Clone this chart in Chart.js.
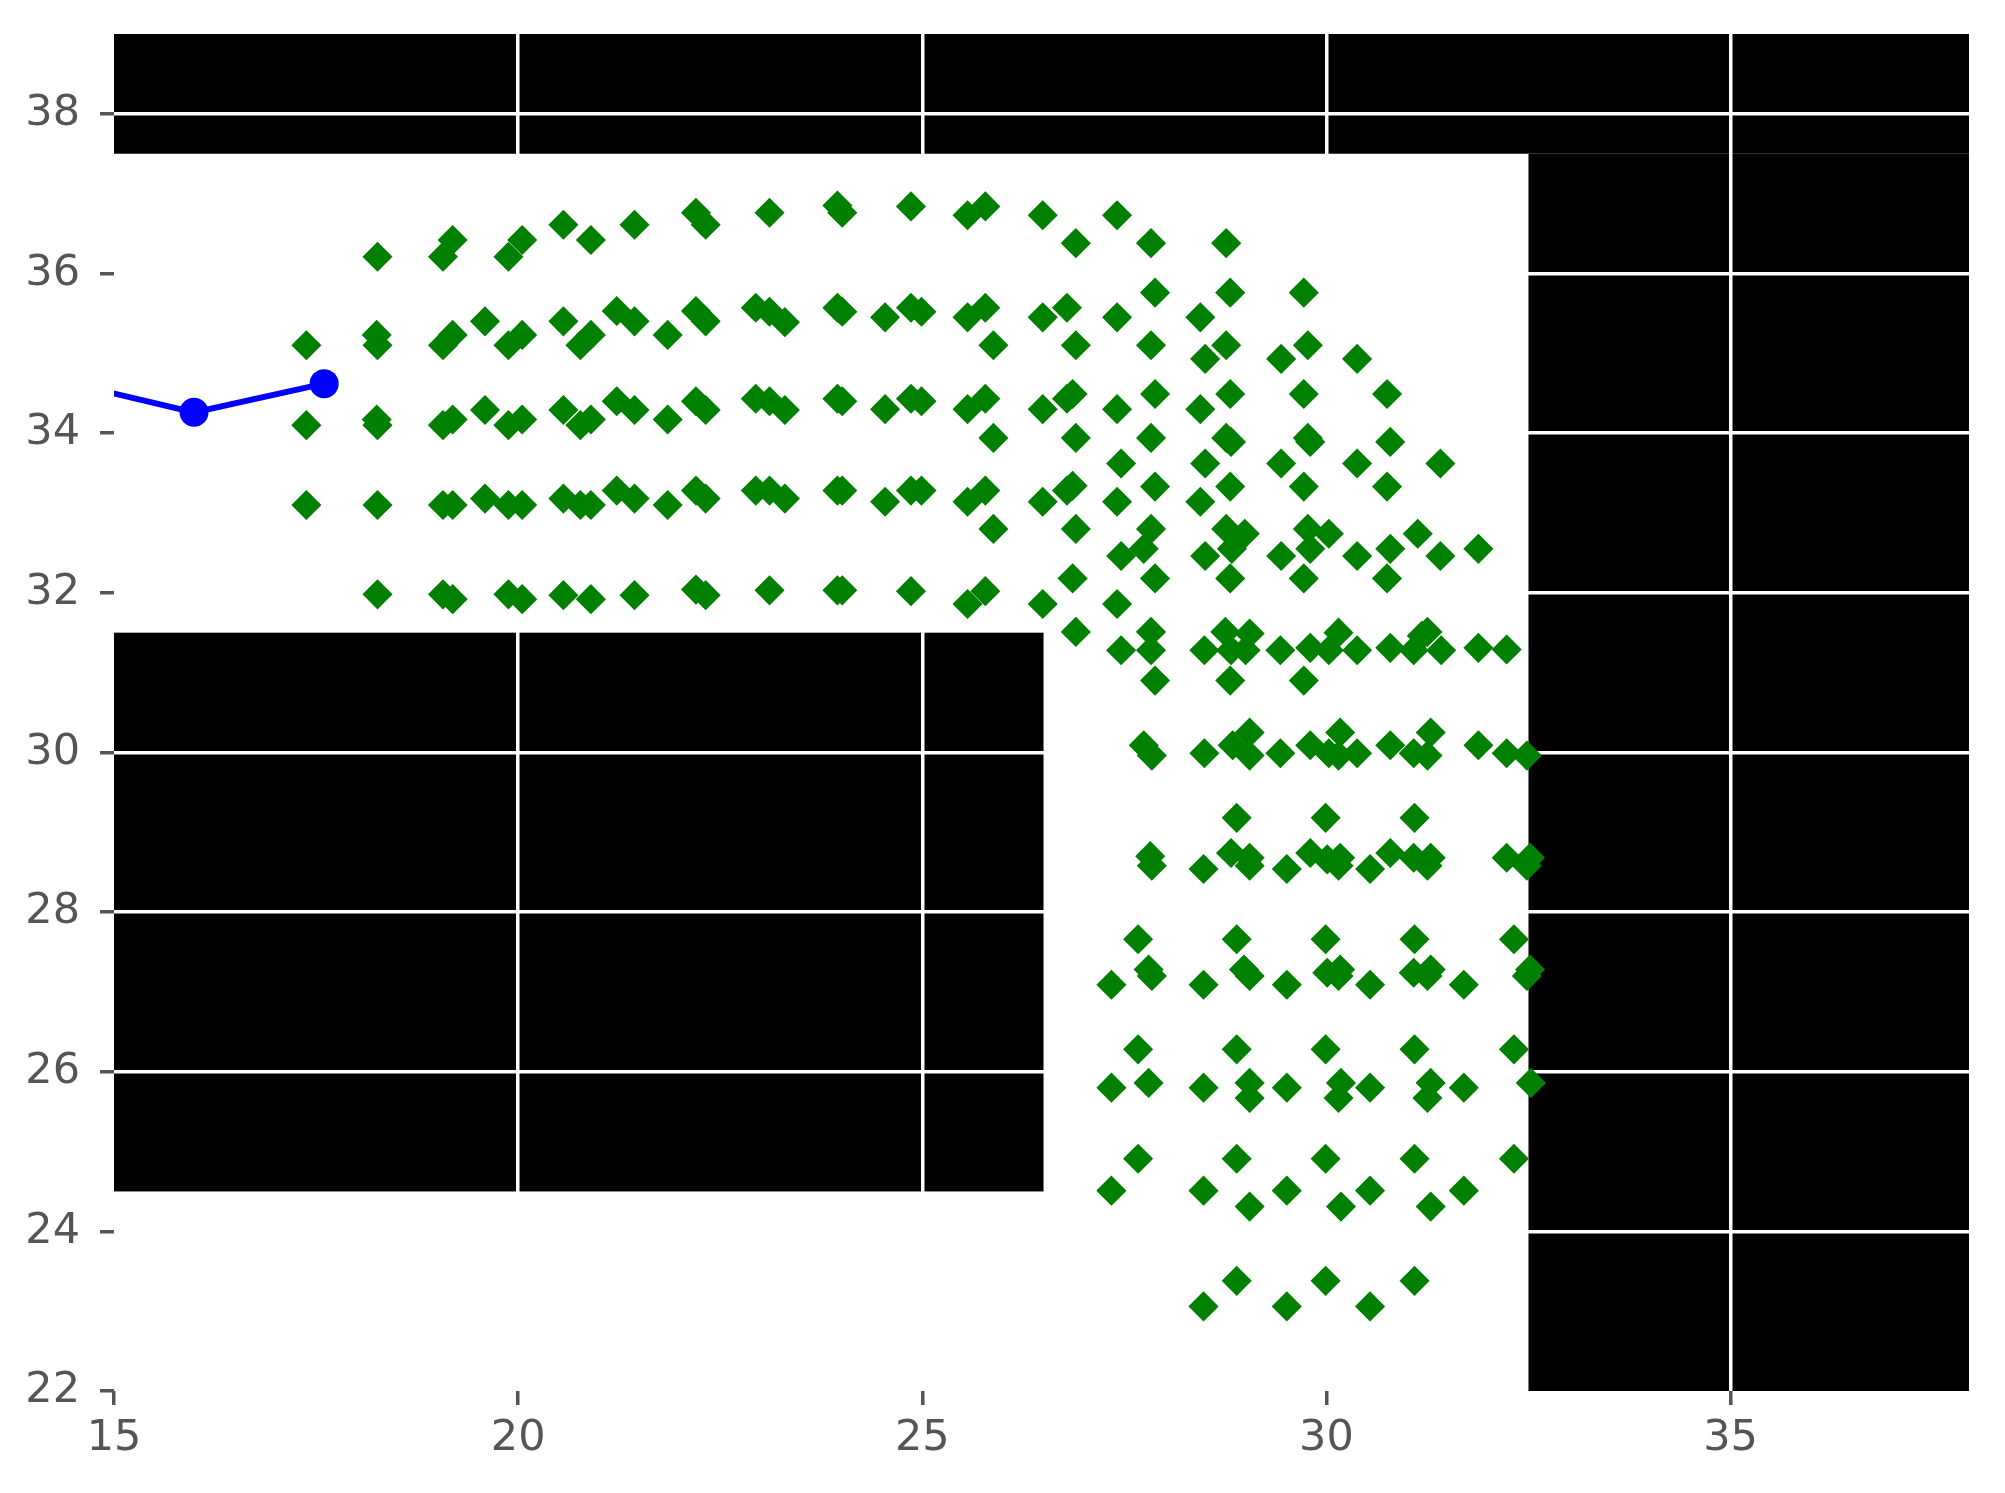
<!DOCTYPE html>
<html><head><meta charset="utf-8">
<script src="https://cdn.jsdelivr.net/npm/chart.js@4"></script>
<style>html,body{margin:0;padding:0;background:#ffffff;} canvas{display:block;}</style>
</head><body>
<canvas id="c" width="2005" height="1493"></canvas>
<script>
// axis ranges and tick labels
const xRange = [15, 37.95];
const yRange = [22, 39];
const xTicks = [15, 20, 25, 30, 35];
const yTicks = [22, 24, 26, 28, 30, 32, 34, 36, 38];

// obstacles (data units)
const obstacleX0 = [15, 32.5, 15];
const obstacleX1 = [37.95, 37.95, 26.5];
const obstacleY0 = [37.5, 22, 24.5];
const obstacleY1 = [39, 37.5, 31.5];

// blue path
const pathX = [14.4, 15.99, 17.60];
const pathY = [34.64, 34.26, 34.62];

// green samples [x, y]
const corridorLeftPts = [
  [18.26,36.21],[19.19,36.42],[19.07,36.21],[20.05,36.42],[19.88,36.21],[20.56,36.61],[20.90,36.42],[21.44,36.61],[22.20,36.76],[22.32,36.61],
  [17.38,35.10],[18.25,35.23],[18.26,35.10],[19.19,35.23],[19.07,35.10],[19.59,35.40],[20.05,35.23],[19.88,35.10],[20.56,35.40],[20.90,35.23],[20.77,35.10],[21.22,35.53],[21.44,35.40],[21.85,35.23],[22.20,35.53],[22.32,35.40],
  [17.38,34.10],[18.25,34.17],[18.26,34.10],[19.19,34.17],[19.07,34.10],[19.59,34.29],[20.05,34.17],[19.88,34.10],[20.56,34.29],[20.90,34.17],[20.77,34.10],[21.22,34.40],[21.44,34.29],[21.85,34.17],[22.20,34.40],[22.32,34.29],
  [17.38,33.10],[18.26,33.10],[19.07,33.10],[19.19,33.10],[19.59,33.18],[19.88,33.10],[20.05,33.10],[20.56,33.18],[20.77,33.10],[20.90,33.10],[21.22,33.28],[21.44,33.18],[21.85,33.10],[22.20,33.28],[22.32,33.18],
  [18.26,31.98],[19.07,31.98],[19.19,31.92],[19.88,31.98],[20.05,31.92],[20.56,31.97],[20.90,31.92],[21.44,31.97],[22.20,32.04],[22.32,31.97]
];
const corridorMidPts = [
  [23.11,36.76],[23.95,36.85],[24.01,36.76],[24.86,36.84],[25.56,36.73],[25.78,36.84],[26.49,36.73],[26.90,36.38],[27.41,36.73],[27.83,36.38],
  [22.94,35.57],[23.11,35.52],[23.30,35.39],[23.95,35.57],[24.01,35.52],[24.54,35.45],[24.86,35.57],[24.99,35.52],[25.56,35.45],[25.78,35.57],[25.88,35.10],[26.49,35.45],[26.79,35.57],[26.90,35.10],[27.41,35.45],[27.88,35.76],[27.83,35.10],
  [22.94,34.43],[23.11,34.40],[23.30,34.29],[23.95,34.43],[24.01,34.40],[24.54,34.30],[24.86,34.43],[24.99,34.40],[25.56,34.30],[25.78,34.43],[25.88,33.94],[26.49,34.30],[26.79,34.43],[26.86,34.49],[26.90,33.94],[27.41,34.30],[27.88,34.49],[27.83,33.94],[27.46,33.62],
  [22.94,33.28],[23.11,33.28],[23.30,33.18],[23.95,33.28],[24.01,33.28],[24.54,33.14],[24.86,33.28],[24.99,33.28],[25.56,33.14],[25.78,33.28],[25.88,32.80],[26.49,33.14],[26.79,33.28],[26.86,33.34],[26.90,32.80],[27.41,33.14],[27.88,33.33],[27.83,32.80],[27.46,32.46],[27.74,32.55],
  [23.11,32.03],[23.95,32.03],[24.01,32.03],[24.86,32.02],[25.56,31.86],[25.78,32.02],[26.86,32.18],[26.49,31.86],[27.41,31.86],[27.88,32.18]
];
const cornerPts = [
  [28.76,36.38],[28.81,35.76],[29.72,35.76],[28.44,35.45],[28.76,35.10],[28.50,34.93],[29.44,34.93],[29.77,35.10],[30.38,34.93],
  [28.81,34.49],[29.72,34.49],[30.75,34.49],[28.44,34.30],[28.76,33.94],[28.82,33.89],[29.77,33.94],[29.80,33.89],[30.79,33.89],
  [28.50,33.62],[29.44,33.62],[30.38,33.62],[31.41,33.62],[28.81,33.33],[29.72,33.33],[30.75,33.33],[28.44,33.14],
  [28.76,32.80],[28.99,32.74],[28.83,32.55],[28.50,32.46],[29.77,32.80],[30.03,32.74],[29.80,32.55],[29.44,32.46],[30.38,32.46],
  [31.13,32.74],[30.79,32.55],[31.41,32.46],[31.88,32.55],[28.81,32.18],[29.72,32.18],[30.75,32.18],
  [26.90,31.51],[27.83,31.51],[27.46,31.28],[27.83,31.28],[27.88,30.90],[28.75,31.51],[29.05,31.49],[28.82,31.28],[29.00,31.28],[28.49,31.28],
  [28.81,30.90],[29.43,31.28],[29.72,30.90],[29.80,31.31],[30.15,31.50],[30.03,31.28],[30.38,31.28],[30.79,31.31],[31.25,31.51],[31.08,31.28],
  [31.42,31.28],[31.18,31.46],[31.88,31.31],[32.23,31.29]
];
const shaftPts = [
  [27.74,30.09],[27.84,29.96],[28.49,29.99],[28.84,30.09],[29.05,30.25],[29.05,29.96],[29.43,29.99],[29.80,30.09],[30.17,30.25],[30.03,29.99],
  [30.15,29.96],[30.38,29.99],[30.79,30.09],[31.29,30.25],[31.08,29.99],[31.25,29.96],[31.88,30.09],[32.23,29.99],[32.48,29.96],
  [28.89,29.18],[29.99,29.18],[31.09,29.18],[27.82,28.70],[27.84,28.58],[28.48,28.54],[28.82,28.74],[29.05,28.68],[29.05,28.58],[29.51,28.54],
  [29.80,28.74],[30.01,28.66],[30.17,28.68],[30.15,28.58],[30.54,28.54],[30.79,28.74],[31.08,28.68],[31.29,28.68],[31.25,28.58],[32.23,28.68],
  [32.52,28.68],[32.48,28.58],
  [27.67,27.66],[28.89,27.66],[29.99,27.66],[31.09,27.66],[32.32,27.66],[27.34,27.09],[27.80,27.28],[27.84,27.20],[28.48,27.09],[28.98,27.28],
  [29.05,27.20],[29.51,27.09],[30.01,27.24],[30.17,27.28],[30.15,27.20],[30.54,27.09],[31.08,27.24],[31.29,27.28],[31.25,27.20],[31.70,27.09],
  [32.52,27.28],[32.48,27.20],
  [27.67,26.28],[28.89,26.28],[29.99,26.28],[31.09,26.28],[32.32,26.28],[27.34,25.80],[27.80,25.86],[28.48,25.80],[29.05,25.86],[29.05,25.67],
  [29.51,25.80],[30.18,25.86],[30.15,25.67],[30.54,25.80],[31.29,25.86],[31.25,25.67],[31.70,25.80],[32.53,25.86],
  [27.67,24.91],[28.89,24.91],[29.99,24.91],[31.09,24.91],[32.32,24.91],[27.34,24.51],[28.48,24.51],[29.05,24.31],[29.51,24.51],[30.18,24.31],
  [30.54,24.51],[31.29,24.31],[31.70,24.51],
  [28.89,23.38],[29.99,23.38],[31.09,23.38],[28.48,23.06],[29.51,23.06],[30.54,23.06]
];

const samplePts = [].concat(corridorLeftPts, corridorMidPts, cornerPts, shaftPts);

const obstaclePlugin = {
  id: 'obstacles',
  beforeDraw(chart) {
    const ctx = chart.ctx, sx = chart.scales.x, sy = chart.scales.y;
    ctx.save();
    ctx.fillStyle = '#000000';
    for (let i = 0; i < obstacleX0.length; i++) {
      const l = sx.getPixelForValue(obstacleX0[i]);
      const r = sx.getPixelForValue(obstacleX1[i]);
      const t = sy.getPixelForValue(obstacleY1[i]);
      const b = sy.getPixelForValue(obstacleY0[i]);
      ctx.fillRect(l, t, r - l, b - t);
    }
    ctx.restore();
  }
};

const tickFont = {family: 'DejaVu Sans', size: 43};

new Chart(document.getElementById('c'), {
  type: 'scatter',
  data: {
    datasets: [
      {
        label: 'path',
        data: pathX.map((v, i) => ({x: v, y: pathY[i]})),
        showLine: true,
        borderColor: '#0000ff',
        borderWidth: 6,
        pointRadius: 14.5,
        pointBackgroundColor: '#0000ff',
        pointBorderColor: '#0000ff',
        pointBorderWidth: 0,
        tension: 0
      },
      {
        label: 'samples',
        data: samplePts.map(p => ({x: p[0], y: p[1]})),
        pointStyle: 'rectRot',
        pointRadius: 14,
        backgroundColor: '#008000',
        borderColor: '#008000',
        borderWidth: 1.5
      }
    ]
  },
  options: {
    responsive: false,
    animation: false,
    devicePixelRatio: 1,
    layout: {padding: {top: 34, right: 36, left: 0, bottom: 0}},
    plugins: {legend: {display: false}, tooltip: {enabled: false}},
    scales: {
      x: {
        type: 'linear', min: xRange[0], max: xRange[1],
        afterBuildTicks: s => { s.ticks = xTicks.map(v => ({value: v})); },
        afterFit: s => { s.height = 102; s.paddingLeft = 0; s.paddingRight = 0; },
        border: {display: false},
        grid: {
          color: c => (c.tick && c.tick.value === xRange[0]) ? 'rgba(0,0,0,0)' : '#ffffff',
          lineWidth: 3.5, tickColor: '#555555', tickWidth: 3.5, tickLength: 14
        },
        ticks: {color: '#555555', font: tickFont, padding: 8, maxRotation: 0, autoSkip: false}
      },
      y: {
        type: 'linear', min: yRange[0], max: yRange[1],
        afterBuildTicks: s => { s.ticks = yTicks.map(v => ({value: v})); },
        afterFit: s => { s.width = 114; s.paddingTop = 0; s.paddingBottom = 0; },
        border: {display: false},
        grid: {
          color: c => (c.tick && c.tick.value === yRange[0]) ? 'rgba(0,0,0,0)' : '#ffffff',
          lineWidth: 3.5, tickColor: '#555555', tickWidth: 3.5, tickLength: 14
        },
        ticks: {color: '#555555', font: tickFont, padding: 20, autoSkip: false}
      }
    }
  },
  plugins: [obstaclePlugin]
});
</script>
</body></html>
